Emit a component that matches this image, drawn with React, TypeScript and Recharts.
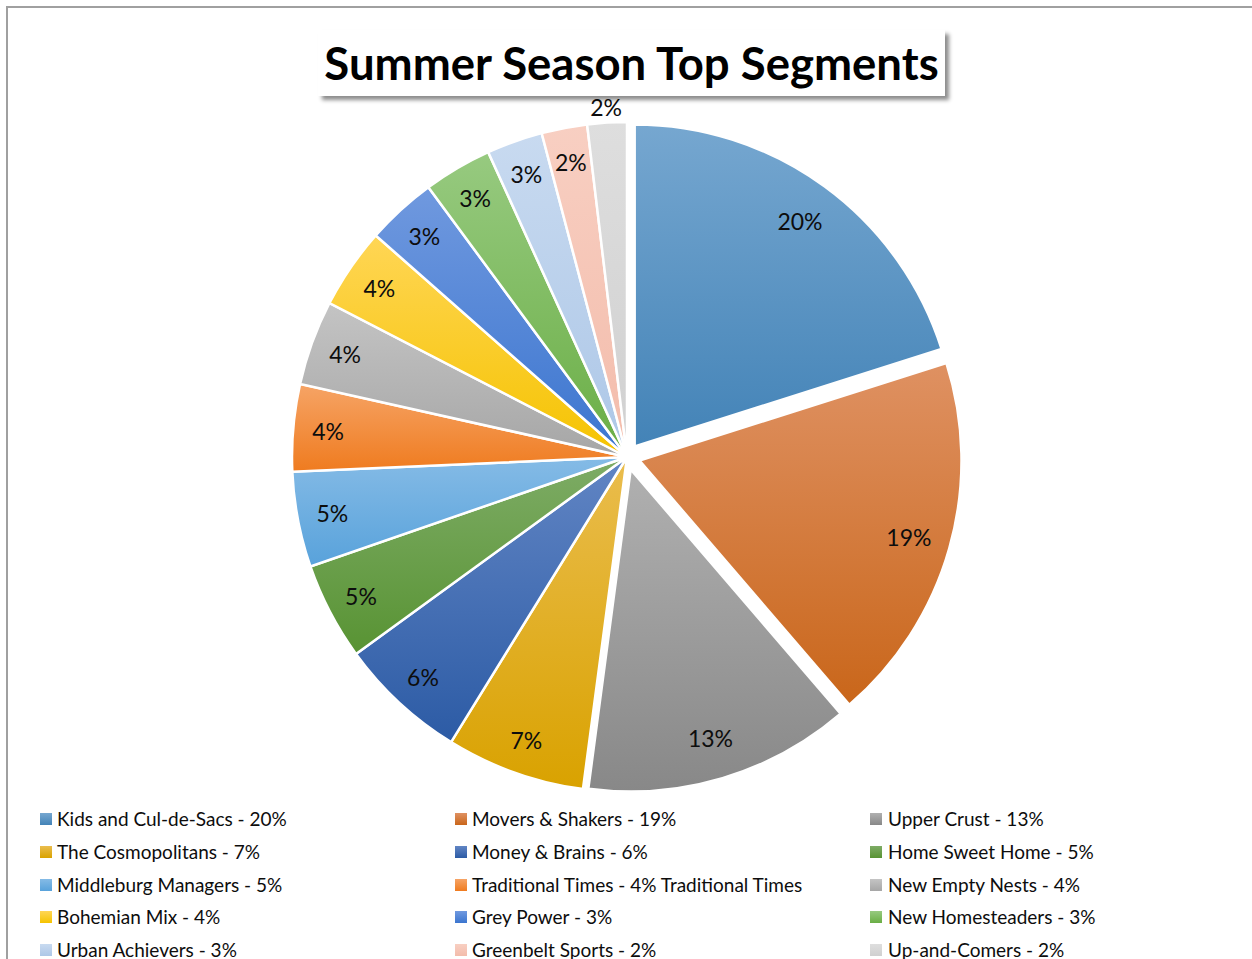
import React from 'react';
import { PieChart, Pie, Cell } from 'recharts';

const segments = [
  'Kids and Cul-de-Sacs',
  'Movers & Shakers',
  'Upper Crust',
  'The Cosmopolitans',
  'Money & Brains',
  'Home Sweet Home',
  'Middleburg Managers',
  'Traditional Times',
  'New Empty Nests',
  'Bohemian Mix',
  'Grey Power',
  'New Homesteaders',
  'Urban Achievers',
  'Greenbelt Sports',
  'Up-and-Comers',
];
// shares (%); labels show them rounded
const shares = [20.1, 18.6, 13.4, 6.7, 6.2, 4.7, 4.6, 4.2, 4.1, 3.9, 3.4, 3.3, 2.7, 2.2, 1.9];
const legendLabels = [
  'Kids and Cul-de-Sacs - 20%',
  'Movers & Shakers - 19%',
  'Upper Crust - 13%',
  'The Cosmopolitans - 7%',
  'Money & Brains - 6%',
  'Home Sweet Home - 5%',
  'Middleburg Managers - 5%',
  'Traditional Times - 4% Traditional Times',
  'New Empty Nests - 4%',
  'Bohemian Mix - 4%',
  'Grey Power - 3%',
  'New Homesteaders - 3%',
  'Urban Achievers - 3%',
  'Greenbelt Sports - 2%',
  'Up-and-Comers - 2%',
];
const topColors = [
  '#76a7d0', '#df9162', '#b0b0b0', '#eabd4e', '#6185c4', '#7eac66', '#85bbe6', '#f6a466',
  '#c4c4c4', '#ffd655', '#7099df', '#97ca80', '#c8daf0', '#f8cfc2', '#dedede',
];
const bottomColors = [
  '#4383b7', '#c9661a', '#888888', '#d9a200', '#2c5ba5', '#589333', '#58a2db', '#ef7b1f',
  '#a6a6a6', '#f5c300', '#3b75cf', '#6aae45', '#adc7e7', '#f3bcab', '#d0d0d0',
];
const explodedSlices = [0, 1, 2];
const outsideLabels = [14];

const CX = 627;
const CY = 457;
const R = 335;
const R_EXP = 322;
const EXPLODE = 13;
const LABEL_R = 300;
const LABEL_R_EXP = 280;
const LABEL_R_OUT = 351;
const FONT = "Lato, 'Open Sans', 'DejaVu Sans', sans-serif";

const data = segments.map((name, i) => ({ name, value: shares[i] }));
const total = shares.reduce((a, b) => a + b, 0);

function midAngleClockwise(i: number) {
  let cum = 0;
  for (let j = 0; j < i; j++) cum += shares[j];
  return ((cum + shares[i] / 2) / total) * 360;
}

function makeLabel(visible: (i: number) => boolean, labelR: number) {
  return (props: any) => {
    const { cx, cy, midAngle, index, percent } = props;
    if (!visible(index)) return null;
    const r = outsideLabels.includes(index) ? LABEL_R_OUT : labelR;
    const rad = (-midAngle * Math.PI) / 180;
    const x = cx + r * Math.cos(rad);
    const y = cy + r * Math.sin(rad);
    return (
      <text
        key={`lbl-${index}`}
        x={x}
        y={y}
        textAnchor="middle"
        dominantBaseline="central"
        fontFamily={FONT}
        fontSize={23}
        fill="#0d0d0d"
      >
        {`${Math.round(percent * 100)}%`}
      </text>
    );
  };
}

const isBase = (i: number) => !explodedSlices.includes(i);
const noMargin = { top: 0, right: 0, bottom: 0, left: 0 };

export default function App() {
  return (
    <div
      style={{
        position: 'absolute',
        left: 0,
        top: 0,
        width: 1252,
        height: 959,
        overflow: 'hidden',
        background: '#fff',
      }}
    >
      <div
        style={{
          position: 'absolute',
          left: 6,
          top: 6,
          width: 1300,
          height: 1000,
          borderLeft: '2px solid #a0a0a0',
          borderTop: '2px solid #a0a0a0',
        }}
      />
      <div style={{ position: 'absolute', left: 0, top: 0 }}>
        <PieChart width={1252} height={959} margin={noMargin}>
          <defs>
            {segments.map((_, i) => (
              <linearGradient key={i} id={`grad${i}`} x1="0" y1="0" x2="0" y2="1">
                <stop offset="0%" stopColor={topColors[i]} />
                <stop offset="100%" stopColor={bottomColors[i]} />
              </linearGradient>
            ))}
          </defs>
          <Pie
            data={data}
            dataKey="value"
            nameKey="name"
            cx={CX}
            cy={CY}
            outerRadius={R}
            innerRadius={0}
            startAngle={90}
            endAngle={-270}
            stroke="#ffffff"
            strokeWidth={2.5}
            labelLine={false}
            label={makeLabel(isBase, LABEL_R)}
            isAnimationActive={false}
          >
            {data.map((_, i) =>
              isBase(i) ? (
                <Cell key={i} fill={`url(#grad${i})`} stroke="#ffffff" />
              ) : (
                <Cell key={i} fill="none" stroke="none" />
              )
            )}
          </Pie>
          {explodedSlices.map((idx) => {
            const a = (midAngleClockwise(idx) * Math.PI) / 180;
            const ecx = CX + EXPLODE * Math.sin(a);
            const ecy = CY - EXPLODE * Math.cos(a);
            return (
              <Pie
                key={`exp${idx}`}
                data={data}
                dataKey="value"
                nameKey="name"
                cx={ecx}
                cy={ecy}
                outerRadius={R_EXP}
                innerRadius={0}
                startAngle={90}
                endAngle={-270}
                stroke="#ffffff"
                strokeWidth={2.5}
                labelLine={false}
                label={makeLabel((i) => i === idx, LABEL_R_EXP)}
                isAnimationActive={false}
              >
                {data.map((_, i) =>
                  i === idx ? (
                    <Cell key={i} fill={`url(#grad${i})`} stroke="#ffffff" />
                  ) : (
                    <Cell key={i} fill="none" stroke="none" />
                  )
                )}
              </Pie>
            );
          })}
        </PieChart>
      </div>
      <div
        style={{
          position: 'absolute',
          left: 318,
          top: 30,
          width: 627,
          height: 66,
          background: '#fff',
          boxShadow: '4px 4px 4px rgba(0,0,0,0.45)',
          fontFamily: FONT,
          fontWeight: 700,
          fontSize: 45.5,
          lineHeight: '66px',
          textAlign: 'center',
          color: '#000',
          whiteSpace: 'nowrap',
        }}
      >
        Summer Season Top Segments
      </div>
      {legendLabels.map((label, i) => {
        const row = Math.floor(i / 3);
        const col = i % 3;
        const sqLeft = [40, 455, 870][col];
        const txtLeft = [57, 472, 888][col];
        const cyRow = 819 + row * 32.75;
        return (
          <React.Fragment key={i}>
            <div
              style={{
                position: 'absolute',
                left: sqLeft,
                top: cyRow - 6,
                width: 12,
                height: 12,
                background: `linear-gradient(${topColors[i]}, ${bottomColors[i]})`,
              }}
            />
            <div
              style={{
                position: 'absolute',
                left: txtLeft,
                top: cyRow - 12,
                height: 24,
                lineHeight: '24px',
                fontFamily: FONT,
                fontSize: 19,
                color: '#0d0d0d',
                whiteSpace: 'nowrap',
              }}
            >
              {label}
            </div>
          </React.Fragment>
        );
      })}
    </div>
  );
}
